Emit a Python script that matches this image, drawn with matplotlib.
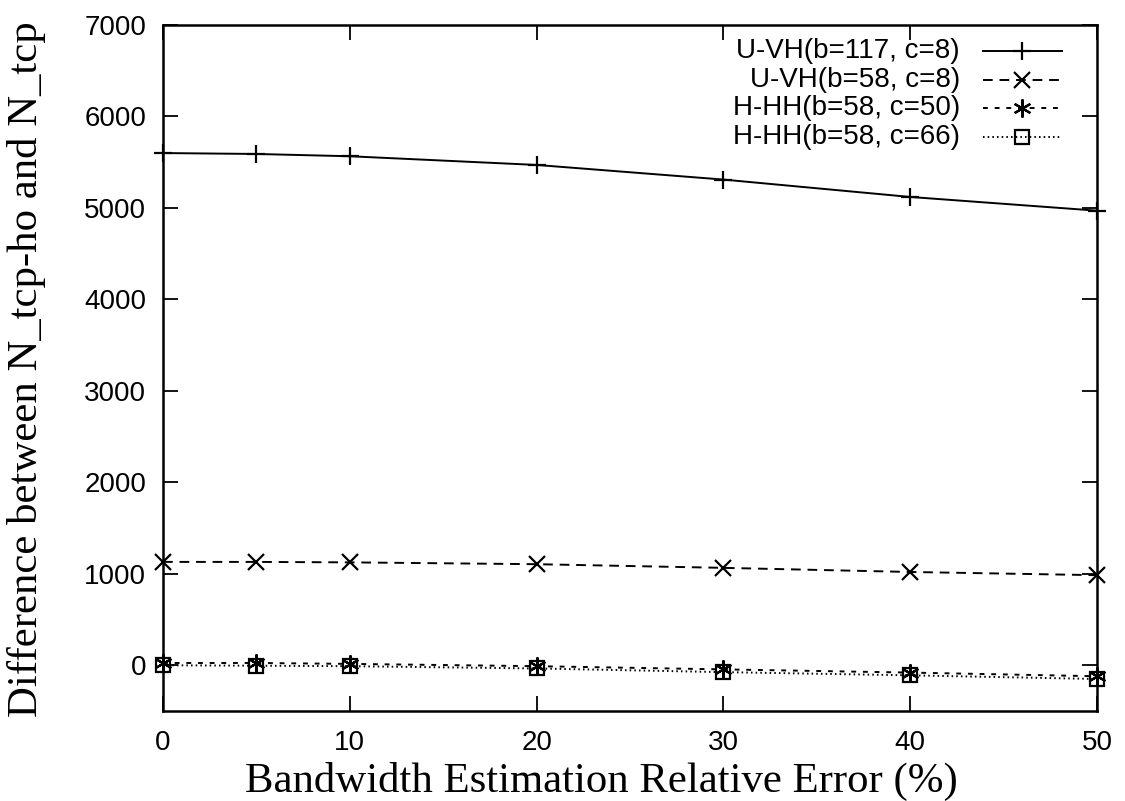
import matplotlib
matplotlib.use("Agg")
import matplotlib.pyplot as plt

# Relative error of the bandwidth estimate (%)
error_pct = [0, 5, 10, 20, 30, 40, 50]

# Difference between N_tcp-ho and N_tcp for each scheme
uvh_b117_c8 = [5600, 5590, 5565, 5470, 5310, 5120, 4970]
uvh_b58_c8 = [1130, 1130, 1125, 1105, 1065, 1020, 985]
hhh_b58_c50 = [25, 25, 15, -10, -45, -80, -120]
hhh_b58_c66 = [0, -5, -10, -35, -75, -110, -150]

labels = ["U-VH(b=117, c=8)", "U-VH(b=58, c=8)",
          "H-HH(b=58, c=50)", "H-HH(b=58, c=66)"]
xticks = [0, 10, 20, 30, 40, 50]
yticks = [0, 1000, 2000, 3000, 4000, 5000, 6000, 7000]

sans = ["Liberation Sans", "DejaVu Sans"]
serif = ["Liberation Serif", "DejaVu Serif"]

fig = plt.figure(figsize=(11.25, 8.01), dpi=100)
ax = fig.add_axes([163 / 1125, 1 - 711 / 801, (1097 - 163) / 1125, (711 - 25) / 801])

lw = 1.4
styles = [
    dict(ls="-", marker="+", ms=13, mew=1.6),
    dict(ls=(0, (5, 3.5)), marker="x", ms=11, mew=1.6),
    dict(ls=(0, (2.5, 3.5)), marker=(6, 2, 0), ms=13, mew=1.6),
    dict(ls=(0, (0.8, 1.6)), marker="s", ms=9.5, mew=1.6, mfc="none"),
]
series = [uvh_b117_c8, uvh_b58_c8, hhh_b58_c50, hhh_b58_c66]

for vals, st in zip(series, styles):
    ax.plot(error_pct, vals, color="black", lw=lw, clip_on=False, **st)

ax.set_xlim(0, 50)
ax.set_ylim(-500, 7000)
ax.set_xticks(xticks)
ax.set_yticks(yticks)
ax.tick_params(direction="in", length=11, width=1.3, top=True, right=True,
               labelsize=20)
ax.tick_params(axis="x", pad=14)
ax.tick_params(axis="y", pad=12)
for t in ax.get_xticklabels() + ax.get_yticklabels():
    t.set_family(sans)
for s in ax.spines.values():
    s.set_linewidth(1.8)

fig.text(601 / 1125, 1 - 792 / 801, "Bandwidth Estimation Relative Error (%)",
         family=serif, fontsize=30.8, ha="center", va="baseline")
fig.text(27 / 1125, 1 - 369 / 801, "Difference between N_tcp-ho and N_tcp",
         family=serif, fontsize=30.8, ha="center", va="center", rotation=90)

# Key in the upper right: right-aligned label followed by a line sample
text_right = 0.8533
line_x = [0.8779, 0.9197, 0.9625]
baselines = [0.9515, 0.9096, 0.8681, 0.8265]
line_lift = 0.0102
for lab, st, yb in zip(labels, styles, baselines):
    ax.text(text_right, yb, lab, transform=ax.transAxes, ha="right",
            va="baseline", family=sans, fontsize=20)
    yl = yb + line_lift
    ax.plot(line_x, [yl, yl, yl], transform=ax.transAxes, color="black",
            lw=lw, markevery=[1], clip_on=False, **st)

fig.savefig("out.png", dpi=100)
